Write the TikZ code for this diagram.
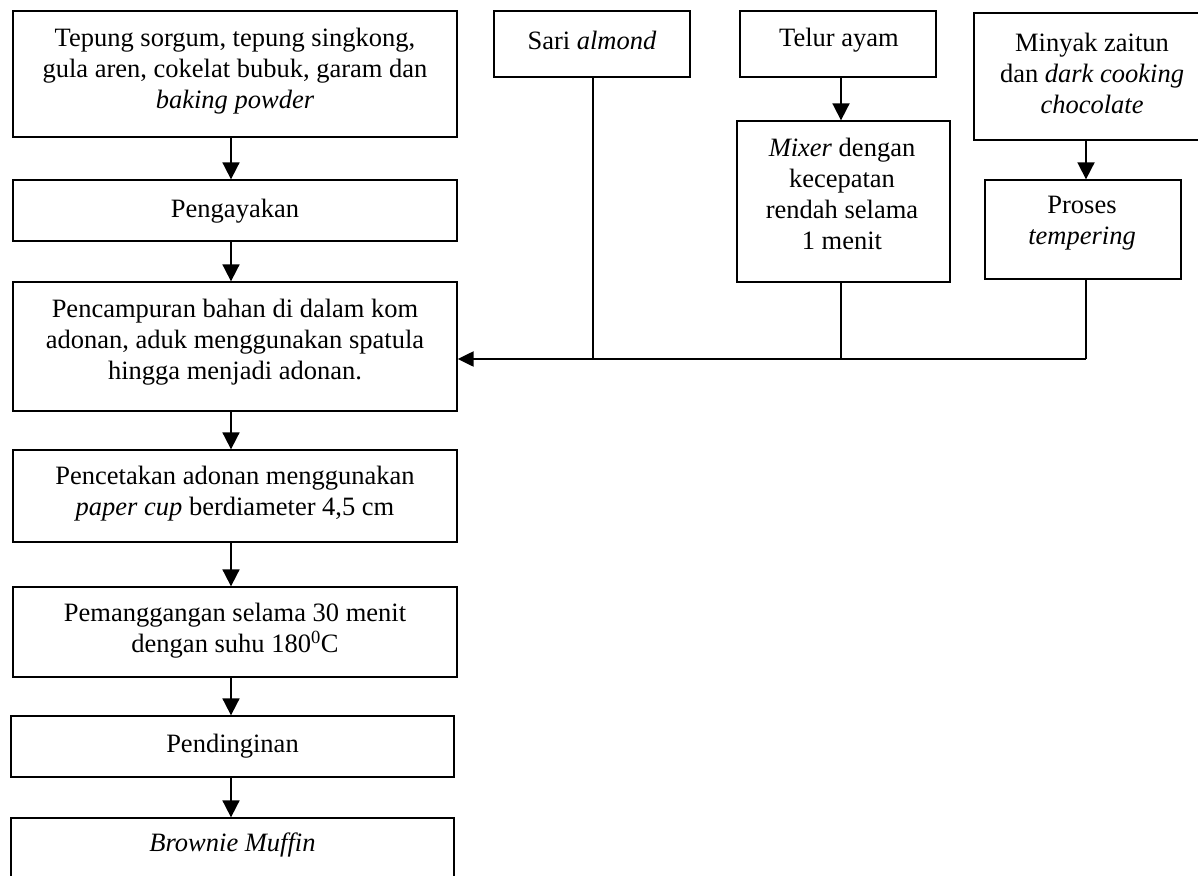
\documentclass[tikz,border=0pt]{standalone}
\usepackage{fontspec}
\setmainfont{Liberation Serif}
\usetikzlibrary{arrows.meta}
\begin{document}
\begin{tikzpicture}[x=1pt,y=-1pt,
  box/.style={draw=black, line width=1.3pt, rectangle, inner sep=0pt},
  txt/.style={align=center, inner sep=0pt, font=\fontsize{26.5}{31}\selectfont},
  arr/.style={line width=1.8pt, -{Triangle[length=17pt,width=17pt]}},
  harr/.style={line width=2.2pt, -{Triangle[length=16pt,width=15pt]}},
  conn/.style={line width=1.4pt}]
\clip (0,0) rectangle (1198,875);
\fill[white] (0,0) rectangle (1198,875);
% left column boxes
\node[box, minimum width=444pt, minimum height=126pt] (a) at (235,74) {};
\node[txt] (at) at (235,71) {Tepung sorgum, tepung singkong,\\gula aren, cokelat bubuk, garam dan\\\textit{baking powder}};
\node[box, minimum width=444pt, minimum height=61pt] (b) at (235,210.5) {};
\node[txt] (bt) at (235,211) {Pengayakan};
\node[box, minimum width=444pt, minimum height=129pt] (c) at (235,346.5) {};
\node[txt] (ct) at (235,342) {Pencampuran bahan di dalam kom\\adonan, aduk menggunakan spatula\\hingga menjadi adonan.};
\node[box, minimum width=444pt, minimum height=92pt] (d) at (235,496) {};
\node[txt] (dt) at (235,494) {Pencetakan adonan menggunakan\\\textit{paper cup} berdiameter 4,5 cm};
\node[box, minimum width=444pt, minimum height=90pt] (e) at (235,632) {};
\node[txt] (et) at (235,631) {Pemanggangan selama 30 menit\\dengan suhu 180\textsuperscript{0}C};
\node[box, minimum width=443pt, minimum height=61pt] (f) at (232.5,746.5) {};
\node[txt] (ft) at (232.5,746) {Pendinginan};
\node[box, minimum width=443pt, minimum height=100pt] (g) at (232.5,868) {};
\node[txt] (gt) at (232.5,845) {\textit{Brownie Muffin}};
% right boxes
\node[box, minimum width=196pt, minimum height=66pt] (s) at (592,44) {};
\node[txt] (st) at (592,40) {Sari \textit{almond}};
\node[box, minimum width=196pt, minimum height=66pt] (t) at (838,44) {};
\node[txt] (tt) at (839,40) {Telur ayam};
\node[box, minimum width=213pt, minimum height=161pt] (m) at (843.5,201.5) {};
\node[txt] (mt) at (842,194) {\textit{Mixer} dengan\\kecepatan\\rendah selama\\1 menit};
\node[box, minimum width=236pt, minimum height=127pt] (o) at (1092,76.5) {};
\node[txt] (ot) at (1092,73) {Minyak zaitun\\dan \textit{dark cooking}\\\textit{chocolate}};
\node[box, minimum width=196pt, minimum height=99pt] (p) at (1083,229.5) {};
\node[txt] (pt) at (1082,223) {Proses\\\textit{tempering}};
% connectors left column
\draw[arr] ([xshift=-4pt]a.south) -- ([xshift=-4pt]b.north);
\draw[arr] ([xshift=-4pt]b.south) -- ([xshift=-4pt]c.north);
\draw[arr] ([xshift=-4pt]c.south) -- ([xshift=-4pt]d.north);
\draw[arr] ([xshift=-4pt]d.south) -- ([xshift=-4pt]e.north);
\draw[arr] ([xshift=-4pt]e.south) -- ([xshift=-4pt]e.south |- f.north);
\draw[arr] ([xshift=-1.5pt]f.south) -- ([xshift=-1.5pt]g.north);
% right side
\coordinate (jr) at (1086,359);
\draw[arr] ([xshift=3pt]t.south) -- ([xshift=-2.5pt]m.north);
\draw[arr] ([xshift=-6pt]o.south) -- ([xshift=3pt]p.north);
\draw[conn] ([xshift=1pt]s.south) -- ([xshift=1pt]s.south |- jr);
\draw[conn] ([xshift=-2.5pt]m.south) -- ([xshift=-2.5pt]m.south |- jr);
\draw[conn] ([xshift=3pt]p.south) -- ([xshift=3pt]p.south |- jr);
\draw[harr] (jr) -- (jr -| c.east);
\end{tikzpicture}
\end{document}
